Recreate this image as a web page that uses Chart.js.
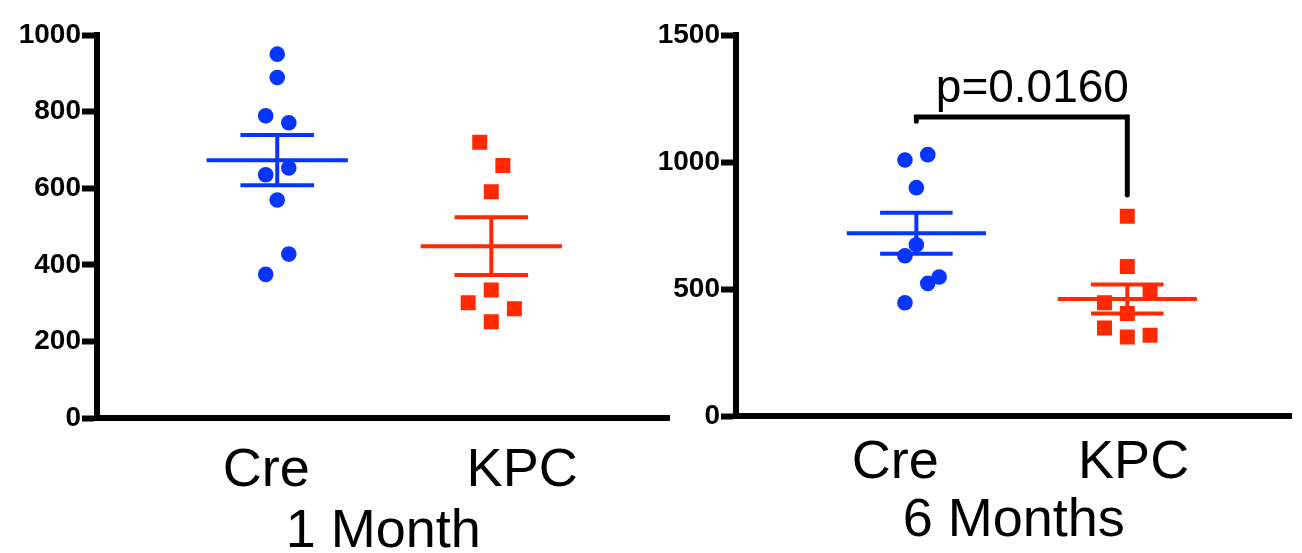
<!DOCTYPE html>
<html>
<head>
<meta charset="utf-8">
<script src="https://cdn.jsdelivr.net/npm/chart.js"></script>
<style>
  html, body { margin: 0; padding: 0; background: #fff; }
  body { width: 1302px; height: 553px; position: relative; overflow: hidden; }
  .panel { position: absolute; top: 0; height: 553px; }
  #oneMonth { left: 0; width: 680px; }
  #sixMonths { left: 640px; width: 662px; }
</style>
</head>
<body>
<div class="panel" id="oneMonth"><canvas id="chart1"></canvas></div>
<div class="panel" id="sixMonths"><canvas id="chart2"></canvas></div>
<script>
const groups = ['Cre', 'KPC'];

// 1 Month
const cre1m = [950, 889, 789, 771, 653, 635, 569, 428, 375];
const kpc1m = [720, 659, 591, 334, 301, 285, 251];
// 6 Months
const cre6m = [1008, 1029, 899, 674, 631, 547, 522, 446];
const kpc6m = [786, 589, 487, 446, 404, 346, 318, 311];

// scatter column of each point (-2 .. 2), like the prism dot plot spreads them
const cre1mCol = [0, 0, -1, 1, 1, -1, 0, 1, -1];
const kpc1mCol = [-1, 1, 0, 0, -2, 2, 0];
const cre6mCol = [-1, 1, 0, 0, -1, 2, 1, -1];
const kpc6mCol = [0, 0, 2, -2, 0, -2, 2, 0];

const yTicks1m = [0, 200, 400, 600, 800, 1000];
const yTicks6m = [0, 500, 1000, 1500];

const pText = 'p=0.0160';
const bracket = [{x: 1, y: 1160}, {x: 1, y: 1177}, {x: 2, y: 1177}, {x: 2, y: 870}];

const BLUE = '#0535ff';
const RED = '#ff2a00';
const FONT = '"Liberation Sans", Arial, Helvetica, sans-serif';
Chart.defaults.font.family = FONT;
Chart.defaults.color = '#000';

const STEP = 0.054;     // spacing between scatter columns
const MEAN_HALF = 0.33; // half width of mean line
const CAP_HALF = 0.172; // half width of SEM caps

function mean(a) { return a.reduce((s, v) => s + v, 0) / a.length; }
function sem(a) {
  const m = mean(a);
  const v = a.reduce((s, x) => s + (x - m) * (x - m), 0) / (a.length - 1);
  return Math.sqrt(v / a.length);
}

function pointsSet(values, cols, pos, color, style) {
  return {
    data: values.map((v, i) => ({x: pos + cols[i] * STEP, y: v})),
    backgroundColor: color,
    borderWidth: 0,
    pointStyle: style,
    pointRadius: style === 'rect' ? 10.6 : 7.8,
    showLine: false,
    order: 0
  };
}

function seg(a, b, color, width) {
  return {
    data: [a, b],
    showLine: true,
    borderColor: color,
    borderWidth: width || 4,
    pointRadius: 0,
    order: 1
  };
}

function errorSets(values, pos, color) {
  const m = mean(values), e = sem(values);
  return [
    seg({x: pos - MEAN_HALF, y: m}, {x: pos + MEAN_HALF, y: m}, color),
    seg({x: pos - CAP_HALF, y: m + e}, {x: pos + CAP_HALF, y: m + e}, color),
    seg({x: pos - CAP_HALF, y: m - e}, {x: pos + CAP_HALF, y: m - e}, color),
    seg({x: pos, y: m - e}, {x: pos, y: m + e}, color)
  ];
}

function makeChart(id, cfg) {
  return new Chart(document.getElementById(id), {
    type: 'scatter',
    data: { datasets: cfg.datasets },
    options: {
      responsive: true,
      maintainAspectRatio: false,
      animation: false,
      layout: { padding: { top: 35, right: cfg.padRight, left: 0, bottom: 0 } },
      plugins: { legend: { display: false }, tooltip: { enabled: false } },
      scales: {
        x: {
          type: 'linear',
          min: cfg.xMin,
          max: cfg.xMax,
          afterBuildTicks: s => { s.ticks = cfg.labelPos.map(v => ({value: v})); },
          afterFit: s => { s.height = cfg.xHeight; },
          ticks: {
            callback: (v, i) => groups[i],
            font: { size: 54 },
            color: '#000',
            padding: cfg.xPad,
            autoSkip: false,
            maxRotation: 0,
            minRotation: 0
          },
          grid: { display: false },
          border: { display: true, width: 6, color: '#000' },
          title: {
            display: true,
            text: cfg.title,
            font: { size: 54 },
            color: '#000',
            padding: { top: 0, bottom: cfg.titlePad }
          }
        },
        y: {
          min: 0,
          max: cfg.yTicks[cfg.yTicks.length - 1],
          afterBuildTicks: s => { s.ticks = cfg.yTicks.map(v => ({value: v})); },
          afterFit: s => { s.width = cfg.yWidth; },
          ticks: {
            callback: v => String(v),
            font: { size: 28, weight: 'bold' },
            color: '#000',
            padding: 1
          },
          grid: {
            display: true,
            drawOnChartArea: false,
            drawTicks: true,
            tickLength: 15,
            tickWidth: 6,
            tickColor: '#000'
          },
          border: { display: true, width: 6, color: '#000' }
        }
      }
    },
    plugins: cfg.plugins || []
  });
}

makeChart('chart1', {
  datasets: [
    pointsSet(cre1m, cre1mCol, 1, BLUE, 'circle'),
    pointsSet(kpc1m, kpc1mCol, 2, RED, 'rect'),
    ...errorSets(cre1m, 1, BLUE),
    ...errorSets(kpc1m, 2, RED)
  ],
  xMin: 0.158, xMax: 2.832,
  labelPos: [0.949, 2.144],
  padRight: 8, yWidth: 97, xHeight: 135,
  xPad: 13, titlePad: -12,
  title: '1 Month',
  yTicks: yTicks1m
});

const pValueLabel = {
  id: 'pValueLabel',
  afterDatasetsDraw(chart) {
    const {ctx, scales: {x, y}} = chart;
    ctx.save();
    ctx.font = '46px ' + FONT;
    ctx.fillStyle = '#000';
    ctx.textAlign = 'center';
    ctx.textBaseline = 'alphabetic';
    ctx.fillText(pText, x.getPixelForValue(1.55), y.getPixelForValue(bracket[1].y) - 15);
    ctx.restore();
  }
};

makeChart('chart2', {
  datasets: [
    pointsSet(cre6m, cre6mCol, 1, BLUE, 'circle'),
    pointsSet(kpc6m, kpc6mCol, 2, RED, 'rect'),
    ...errorSets(cre6m, 1, BLUE),
    ...errorSets(kpc6m, 2, RED),
    {
      data: bracket,
      showLine: true,
      borderColor: '#000',
      borderWidth: 5,
      borderCapStyle: 'round',
      pointRadius: 0,
      order: 1
    }
  ],
  xMin: 0.145, xMax: 2.778,
  labelPos: [0.9, 2.03],
  padRight: 0, yWidth: 96, xHeight: 137,
  xPad: 7, titlePad: -1,
  title: '6 Months',
  yTicks: yTicks6m,
  plugins: [pValueLabel]
});
</script>
</body>
</html>
